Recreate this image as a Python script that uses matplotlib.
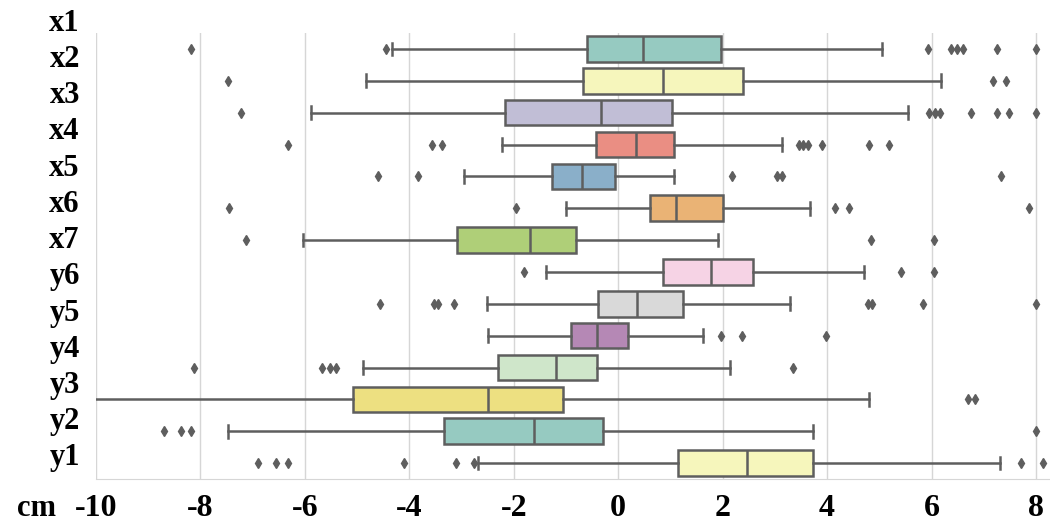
import numpy as np
import matplotlib
matplotlib.use("Agg")
from matplotlib import pyplot as plt
import seaborn as sns

# row labels (drawn as a separate column, as in the source figure)
row_labels = ["x1", "x2", "x3", "x4", "x5", "x6", "x7",
              "y6", "y5", "y4", "y3", "y2", "y1"]
x_ticks = [-10, -8, -6, -4, -2, 0, 2, 4, 6, 8]

# per box: lower whisker, Q1, median, Q3, upper whisker (cm)
whislo = [-4.33, -4.82, -5.89, -2.22, -2.95, -0.99, -6.04, -1.38, -2.52, -2.49, -4.89, -10.3, -7.48, -2.68]
q1 = [-0.60, -0.67, -2.16, -0.42, -1.26, 0.61, -3.08, 0.86, -0.38, -0.90, -2.31, -5.07, -3.33, 1.15]
med = [0.48, 0.86, -0.33, 0.34, -0.69, 1.11, -1.68, 1.78, 0.36, -0.40, -1.20, -2.49, -1.62, 2.47]
q3 = [1.97, 2.39, 1.03, 1.06, -0.06, 2.00, -0.80, 2.58, 1.25, 0.19, -0.40, -1.05, -0.29, 3.73]
whishi = [5.05, 6.18, 5.55, 3.13, 1.06, 3.67, 1.91, 4.70, 3.29, 1.63, 2.14, 4.80, 3.73, 7.32]
outliers = [
    [-8.18, -4.44, 5.93, 6.37, 6.48, 6.60, 7.25, 8.01],
    [-7.47, 7.17, 7.42],
    [-7.23, 5.95, 6.06, 6.17, 6.75, 7.25, 7.48, 8.01],
    [-6.33, -3.56, -3.38, 3.46, 3.54, 3.64, 3.90, 4.80, 5.18],
    [-4.60, -3.83, 2.18, 3.04, 3.13, 7.34],
    [-7.45, -1.95, 4.15, 4.42, 7.86],
    [-7.13, 4.84, 6.04],
    [-1.80, 5.41, 6.04],
    [-4.57, -3.52, -3.46, -3.14, 4.78, 4.86, 5.83, 8.01],
    [1.97, 2.37, 3.98],
    [-8.12, -5.68, -5.51, -5.41, 3.35],
    [6.69, 6.83],
    [-8.70, -8.37, -8.18, 8.01],
    [-6.90, -6.56, -6.33, -4.11, -3.10, -2.77, 7.71, 8.13],
]

stats = []
for i in range(len(med)):
    stats.append(dict(whislo=whislo[i], q1=q1[i], med=med[i], q3=q3[i],
                      whishi=whishi[i], fliers=outliers[i]))

# seaborn-style muted Set3
colors = [sns.desaturate(c, 0.75) for c in sns.color_palette("Set3", 12)]
edge = "#5e5e5e"

fig = plt.figure(figsize=(10.5, 5.22), dpi=100)
ax = fig.add_axes([96 / 1050, 1 - 479 / 522, 953 / 1050, 446 / 522])

pos = np.arange(len(med))
bp = ax.bxp(stats, positions=pos, widths=0.8, vert=False, patch_artist=True,
            showfliers=True,
            boxprops=dict(edgecolor=edge, linewidth=1.8),
            medianprops=dict(color=edge, linewidth=1.8),
            whiskerprops=dict(color=edge, linewidth=1.8),
            capprops=dict(color=edge, linewidth=1.8),
            flierprops=dict(marker="d", markerfacecolor=edge, markeredgecolor=edge,
                            markersize=5, linestyle="none"))
for i, patch in enumerate(bp["boxes"]):
    patch.set_facecolor(colors[i % len(colors)])

ax.set_xlim(-10, 8.25)
ax.set_ylim(len(med) - 0.5, -0.5)
ax.set_xticks(x_ticks)
ax.set_xticklabels([str(t) for t in x_ticks], fontfamily="Liberation Serif",
                   fontweight="bold", fontsize=23)
ax.tick_params(axis="x", length=0, pad=11)
ax.set_yticks([])
ax.grid(axis="x", color="#d6d6d6", linewidth=1)
ax.set_axisbelow(True)
for s in ["top", "right", "left"]:
    ax.spines[s].set_visible(False)
ax.spines["bottom"].set_color("#d6d6d6")

# labels sit on their own spacing, not on the box rows
label_y = np.linspace(-0.81, 12.84, len(row_labels))
for lab, yy in zip(row_labels, label_y):
    ax.text(-0.017, yy, lab, transform=ax.get_yaxis_transform(), ha="right", va="center",
            fontfamily="Liberation Serif", fontweight="bold", fontsize=22, clip_on=False)

fig.text(37 / 1050, 1 - 516 / 522, "cm", ha="center", va="baseline",
         fontfamily="Liberation Serif", fontweight="bold", fontsize=22)

plt.savefig("out.png", dpi=100)
